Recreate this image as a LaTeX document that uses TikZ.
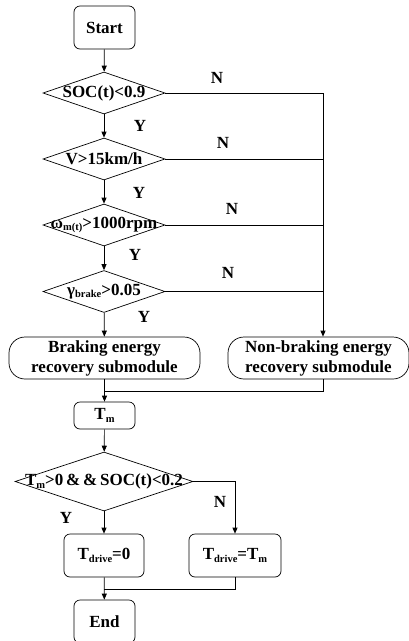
\documentclass[tikz,border=0pt]{standalone}
\usepackage{fontspec}
\setmainfont{Liberation Serif}
\usetikzlibrary{shapes.geometric, arrows.meta}

\newcommand{\lowsub}[1]{\raisebox{-2.5pt}{\fontsize{10.5}{12}\selectfont #1}}

\begin{document}
\begin{tikzpicture}[x=1pt, y=-1pt,
    every node/.style={font=\fontsize{17}{20}\selectfont\bfseries},
    terminal/.style={draw, line width=0.7pt, rounded corners=6pt, inner sep=0pt, minimum width=61pt, minimum height=43pt},
    module/.style={draw, line width=0.7pt, rounded corners=16pt, inner sep=0pt, minimum height=42pt, align=center},
    decision/.style={draw, line width=0.7pt, diamond, inner sep=0pt, minimum width=122pt, minimum height=42pt},
    arrow/.style={line width=0.7pt, -{Triangle[length=6pt, width=5pt]}},
    link/.style={line width=0.7pt}]
    \useasboundingbox (0, 0) rectangle (409, 641);

    % Start and the four checks
    \node[terminal] (start) at (104.5, 27.5) {Start};
    \node[decision] (soc) at (104, 93) {\makebox[0pt]{SOC(t)<0.9}};
    \node[decision] (speed) at (104, 159) {\makebox[0pt]{V>15km/h}};
    \node[decision] (omega) at (104, 225) {\makebox[0pt]{ω\lowsub{m(t)}>1000rpm}};
    \node[decision] (gamma) at (104, 291.5) {\makebox[0pt]{γ\lowsub{brake}>0.05}};

    % Submodules
    \node[module, minimum width=191pt] (brk) at (104.5, 358) {Braking energy\\recovery submodule};
    \node[module, minimum width=181pt] (nbrk) at (318.5, 358) {Non-braking energy\\recovery submodule};

    \node[terminal, minimum height=27pt] (tm) at (104.5, 415.5) {T\lowsub{m}};
    \node[decision, minimum width=178pt, minimum height=59pt] (low) at (104, 481.5) {\makebox[0pt]{T\lowsub{m}>0\,\&\,\&\,SOC(t)<0.2}};

    \node[terminal, minimum width=80pt] (drv0) at (104, 555.5) {T\lowsub{drive}=0};
    \node[terminal, minimum width=92pt] (drvm) at (235, 555.5) {T\lowsub{drive}=T\lowsub{m}};
    \node[terminal] (stop) at (104.5, 621.5) {End};

    % Helper points
    \coordinate (rail) at (323, 93);
    \coordinate (join1) at (104, 391);
    \coordinate (join2) at (104, 589);

    % Yes branch
    \draw[arrow] (start) -- (soc);
    \draw[arrow] (soc) -- (speed);
    \draw[arrow] (speed) -- (omega);
    \draw[arrow] (omega) -- (gamma);
    \draw[arrow] (gamma) -- (brk);
    \draw[arrow] (brk) -- (tm);
    \draw[arrow] (tm) -- (low);
    \draw[arrow] (low) -- (drv0);
    \draw[arrow] (drv0) -- (stop);

    % No branch
    \draw[link] (soc.east) -- (rail);
    \draw[link] (speed.east) -- (speed.east -| rail);
    \draw[link] (omega.east) -- (omega.east -| rail);
    \draw[link] (gamma.east) -- (gamma.east -| rail);
    \draw[arrow] (rail) -- (rail |- nbrk.north);
    \draw[link] (rail |- nbrk.south) |- (join1);
    \draw[arrow] (low.east) -| (drvm.north);
    \draw[link] (drvm.south) |- (join2);

    % Labels
    \node (n1) at (217, 78) {N};
    \node (n2) at (223, 143) {N};
    \node (n3) at (232, 209) {N};
    \node (n4) at (228, 273) {N};
    \node (y1) at (140, 126) {Y};
    \node (y2) at (139, 193) {Y};
    \node (y3) at (135, 255) {Y};
    \node (y4) at (144, 317) {Y};
    \node (n5) at (220, 502) {N};
    \node (y5) at (66, 518) {Y};
\end{tikzpicture}
\end{document}
